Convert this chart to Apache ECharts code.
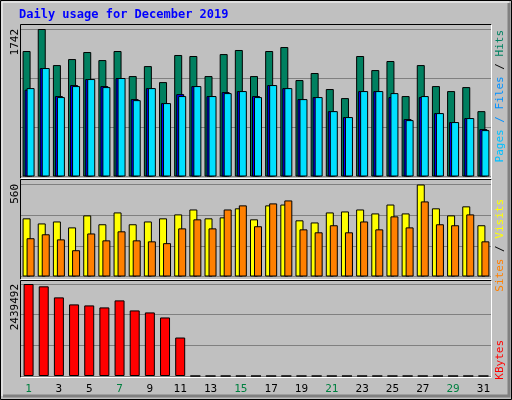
<!DOCTYPE html>
<html><head><meta charset="utf-8">
<script src="https://cdn.jsdelivr.net/npm/echarts@6/dist/echarts.min.js"></script>
<style>html,body{margin:0;padding:0;background:#c0c0c0}#c{width:512px;height:400px}</style>
</head><body><div id="c"></div>
<script>
const days = Array.from({length:31},(_,i)=>String(i+1));
const weekend = [1,7,8,14,15,21,22,28,29];
const hits = [1482,1742,1316,1387,1470,1375,1482,1186,1304,1115,1435,1423,1186,1446,1494,1186,1482,1529,1139,1222,1033,926,1423,1257,1364,950,1316,1068,1009,1056,772];
const files = [1025,1281,950,1080,1151,1068,1163,914,1044,867,973,1068,950,997,1009,950,1080,1044,914,938,772,702,1009,1009,938,678,938,749,643,690,560];
const pages = [1044,1281,938,1068,1151,1056,1163,902,1044,867,950,1068,950,985,1009,938,1080,1044,914,938,772,702,1009,1009,985,666,950,749,643,690,548];
const sites = [354,323,335,299,372,318,390,318,335,354,378,408,354,360,415,348,433,438,342,329,390,396,408,384,438,384,560,415,372,427,312];
const visits = [233,257,226,160,262,220,275,220,214,203,293,348,293,408,433,306,445,463,287,269,312,269,335,287,366,299,457,318,312,378,214];
const kbytes = [2439492,2377400,2084700,1898400,1871800,1818600,2004900,1738700,1685500,1552400,1020200,0,0,0,0,0,0,0,0,0,0,0,0,0,0,0,0,0,0,0,0];
const maxHits = 1742, maxSites = 560, maxKB = 2439492;

const chart = echarts.init(document.getElementById('c'), null, {renderer:'canvas'});
const F = '"DejaVu Sans Mono", monospace';
function xAx(i, labels){
  return {type:'category', gridIndex:i, data:days, axisLine:{show:false}, axisTick:{show:false},
    axisLabel: labels ? {show:true, fontFamily:F, fontSize:11, margin:8,
      color:(v)=>weekend.includes(+v)?'#008040':'#000'} : {show:false}};
}
function yAx(i, m){
  return {type:'value', gridIndex:i, min:0, max:m, interval:m/3, axisLabel:{show:false},
    axisLine:{show:false}, axisTick:{show:false}, splitLine:{show:true, lineStyle:{color:'#808080', width:1}}};
}
const bs = {borderColor:'#000', borderWidth:1};
function bar(name, data, i, color, gap){
  return {type:'bar', name, data, xAxisIndex:i, yAxisIndex:i, barWidth:8, barGap:gap,
    itemStyle:Object.assign({color}, bs), animation:false, silent:true};
}
function frame(x1,y1,x2,y2){
  return [
    {type:'polyline', shape:{points:[[x1,y2],[x1,y1],[x2,y1]]}, style:{stroke:'#000', fill:null, lineWidth:1}},
    {type:'polyline', shape:{points:[[x2,y1],[x2,y2],[x1,y2]]}, style:{stroke:'#fff', fill:null, lineWidth:1}}
  ];
}
function vtext(x, y, rich, text){
  return {type:'text', x, y, rotation:Math.PI/2, style:{text, rich, font:'11px '+F, align:'right', verticalAlign:'top'}};
}
chart.setOption({
  backgroundColor:'#c0c0c0',
  animation:false,
  grid:[
    {left:21, right:21, top:29, height:147.5},
    {left:21, right:21, top:184.5, height:92},
    {left:21, right:21, top:284, height:92}
  ],
  xAxis:[xAx(0,false), xAx(1,false), xAx(2,true)],
  yAxis:[yAx(0,maxHits), yAx(1,maxSites), yAx(2,maxKB)],
  series:[
    bar('Hits', hits, 0, '#008060', '-75%'),
    bar('Files', files, 0, '#0000ff', '-75%'),
    bar('Pages', pages, 0, '#00e0ff', '-75%'),
    bar('Sites', sites, 1, '#ffff00', '-50%'),
    bar('Visits', visits, 1, '#ff8000', '-50%'),
    Object.assign(bar('KBytes', kbytes, 2, '#ff0000', '0%'), {barWidth:10})
  ],
  graphic:[
    {type:'rect', shape:{x:0.5,y:0.5,width:511,height:399}, style:{fill:null, stroke:'#000', lineWidth:1}},
    {type:'polyline', shape:{points:[[509,3],[509,396],[3,396]]}, style:{stroke:'#808080', fill:null, lineWidth:3}},
    {type:'polyline', shape:{points:[[2,396],[2,2],[509,2]]}, style:{stroke:'#fff', fill:null, lineWidth:1}},
    {type:'text', x:19, y:9, style:{text:'Daily usage for December 2019', font:'bold 12px '+F, fill:'#0000ff'}},
    ...frame(20.5,24.5,491.5,178.5),
    ...frame(20.5,179.5,491.5,279.5),
    ...frame(20.5,280.5,491.5,377.5),
    {type:'text', x:10, y:29, rotation:Math.PI/2, style:{text:'1742', font:'11px '+F, fill:'#000', align:'right', verticalAlign:'top'}},
    {type:'text', x:10, y:184, rotation:Math.PI/2, style:{text:'560', font:'11px '+F, fill:'#000', align:'right', verticalAlign:'top'}},
    {type:'text', x:10, y:284, rotation:Math.PI/2, style:{text:'2439492', font:'11px '+F, fill:'#000', align:'right', verticalAlign:'top'}},
    {type:'text', x:495, y:30, rotation:Math.PI/2, style:{text:'{p|Pages}{f| / Files}{s| / }{h|Hits}', font:'11px '+F, align:'right', verticalAlign:'top',
      rich:{p:{fill:'#00c0ff',font:'11px '+F},f:{fill:'#0090ff',font:'11px '+F},s:{fill:'#000',font:'11px '+F},h:{fill:'#008060',font:'11px '+F}}}},
    {type:'text', x:495, y:199, rotation:Math.PI/2, style:{text:'{a|Sites}{s| / }{b|Visits}', font:'11px '+F, align:'right', verticalAlign:'top',
      rich:{a:{fill:'#ff8000',font:'11px '+F},s:{fill:'#000',font:'11px '+F},b:{fill:'#ffff00',font:'11px '+F}}}},
    {type:'text', x:495, y:340, rotation:Math.PI/2, style:{text:'KBytes', font:'11px '+F, fill:'#ff0000', align:'right', verticalAlign:'top'}}
  ]
});
</script></body></html>
